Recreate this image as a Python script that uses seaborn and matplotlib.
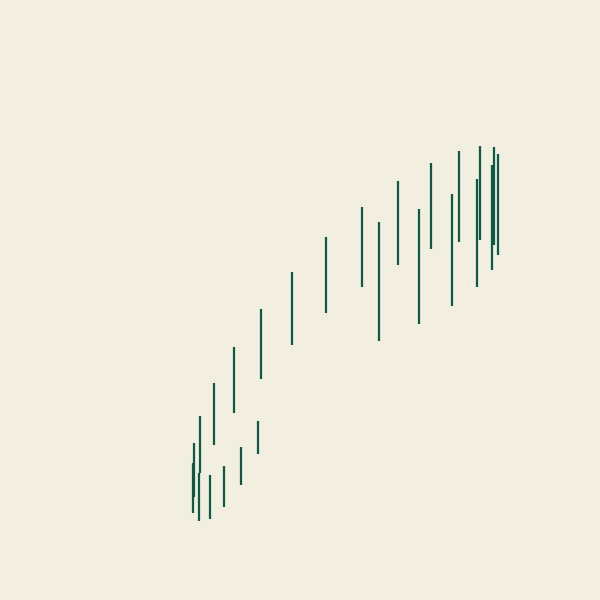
import matplotlib
matplotlib.use("Agg")
import matplotlib.pyplot as plt
import seaborn as sns
import pandas as pd

# Interval positions and their lower/upper ends (chart units)
x_pos = [193.7, 193.3, 200.3, 199.3, 210.3, 213.7, 224.3, 234.3, 240.7, 258.0,
         260.7, 292.0, 326.3, 362.3, 379.0, 397.7, 419.0, 430.7, 452.0, 459.0,
         476.7, 480.3, 492.3, 493.7, 498.0]
y_top = [442.7, 462.7, 416.0, 473.3, 474.7, 383.3, 466.0, 346.7, 447.3, 420.7,
         309.3, 272.0, 237.3, 206.7, 221.7, 181.3, 208.7, 162.7, 193.7, 150.7,
         178.7, 145.7, 164.7, 146.7, 153.7]
y_bot = [496.7, 513.3, 473.3, 520.7, 518.7, 445.3, 506.7, 412.7, 484.7, 454.0,
         378.7, 344.7, 313.3, 286.7, 341.0, 264.7, 324.3, 249.3, 305.7, 241.7,
         287.3, 240.0, 269.7, 245.0, 255.3]

BG = "#f2eee0"
LINE = "#0a5a45"

rows = []
for i, (x, a, b) in enumerate(zip(x_pos, y_top, y_bot)):
    rows.append({"id": i, "x": x, "y": a, "k": 0})
    rows.append({"id": i, "x": x, "y": b, "k": 1})
df = pd.DataFrame(rows)

sns.set_theme(style="white", rc={"figure.facecolor": BG, "axes.facecolor": BG})
fig = plt.figure(figsize=(6, 6), dpi=100)
ax = fig.add_axes([0, 0, 1, 1])
sns.lineplot(data=df, x="x", y="y", units="id", estimator=None, sort=False,
             color=LINE, linewidth=1.6, ax=ax, legend=False)
for ln in ax.lines:
    ln.set_solid_capstyle("butt")
ax.set_xlim(0, 600)
ax.set_ylim(600, 0)
ax.set_axis_off()
fig.savefig("out.png", dpi=100, facecolor=BG)
